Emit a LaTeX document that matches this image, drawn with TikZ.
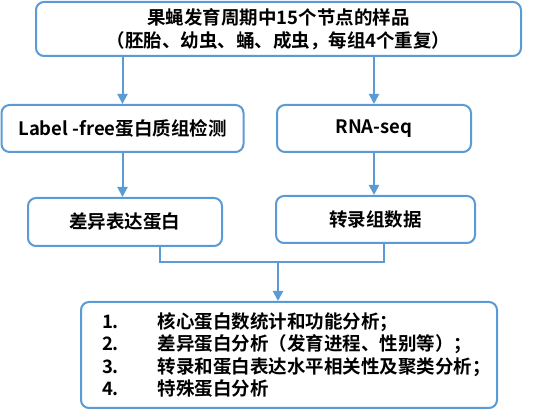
\documentclass[tikz,border=0pt]{standalone}
\usepackage{fontspec}
\setmainfont{Noto Sans CJK SC}[BoldFont={Noto Sans CJK SC Bold}]
\usepackage{tikz}
\usetikzlibrary{shapes,arrows.meta,positioning,calc}
\definecolor{boxblue}{RGB}{91,155,213}

\begin{document}
\begin{tikzpicture}[x=1pt, y=-1pt,
    box/.style={rectangle, rounded corners=8pt, draw=boxblue, line width=2pt, fill=white,
        font=\fontsize{18.5}{23}\selectfont\bfseries, align=center, inner sep=0pt},
    link/.style={draw=boxblue, line width=2pt},
    arr/.style={link, -{Triangle[width=10pt,length=10pt]}}]
    \useasboundingbox (0,0) rectangle (542,414);

    % Samples
    \node[box, minimum width=485pt, minimum height=54pt] (samples) at (278.5,29) {果蝇发育周期中15个节点的样品\\（胚胎、幼虫、蛹、成虫，每组4个重复）};

    % Two branches
    \node[box, minimum width=242pt, minimum height=47pt] (lfq) at (122.5,128.5) {Label -free蛋白质组检测};
    \node[box, minimum width=194pt, minimum height=47pt] (rnaseq) at (374,128.5) {RNA-seq};
    \node[box, minimum width=194pt, minimum height=48pt] (diffprot) at (125,222) {差异表达蛋白};
    \node[box, minimum width=199pt, minimum height=47pt] (transcr) at (375.5,219.5) {转录组数据};

    % Analysis
    \node[box, minimum width=416pt, minimum height=106pt, text width=374pt, align=left,
        font=\fontsize{18.5}{22.5}\selectfont\bfseries] (analysis) at (289,355)
        {\makebox[56pt][l]{1.}核心蛋白数统计和功能分析；\\
         \makebox[56pt][l]{2.}差异蛋白分析（发育进程、性别等）；\\
         \makebox[56pt][l]{3.}转录和蛋白表达水平相关性及聚类分析；\\
         \makebox[56pt][l]{4.}特殊蛋白分析};

    % Connections
    \draw[arr] (lfq.north |- samples.south) -- (lfq.north);
    \draw[arr] (rnaseq.north |- samples.south) -- (rnaseq.north);
    \draw[arr] (lfq.south) -- (lfq.south |- diffprot.north);
    \draw[arr] (rnaseq.south) -- (rnaseq.south |- transcr.north);

    % Merge
    \coordinate (jl) at (160,262);
    \coordinate (jr) at (384,262);
    \coordinate (jm) at (278,262);
    \draw[link] (jl |- diffprot.south) -- (jl) -- (jr) -- (jr |- transcr.south);
    \draw[arr] (jm) -- (jm |- analysis.north);
\end{tikzpicture}
\end{document}
